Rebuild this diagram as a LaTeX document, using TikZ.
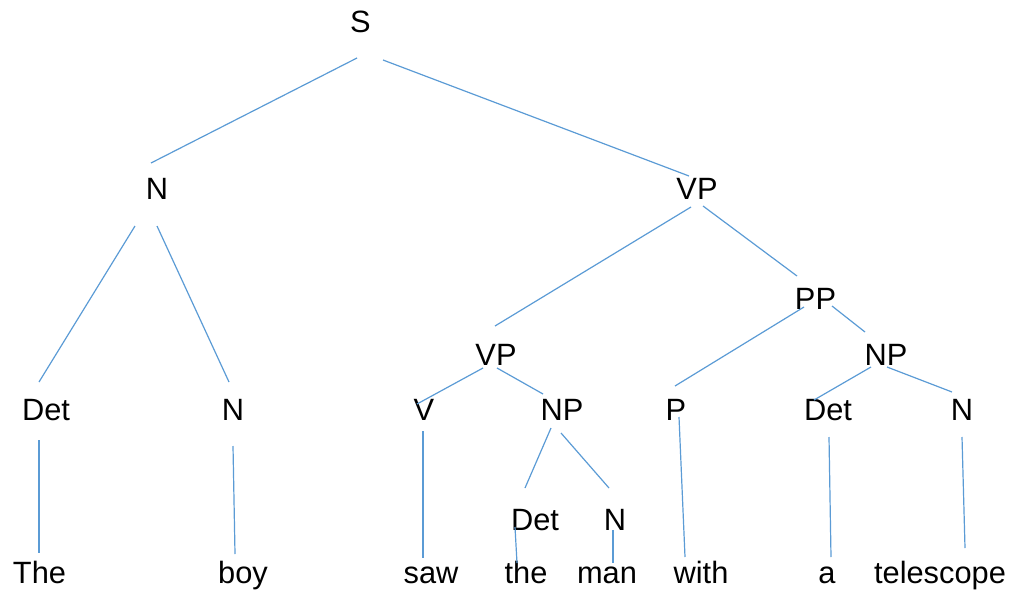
\documentclass[tikz,border=0pt]{standalone}
\usepackage{fontspec}
\setmainfont{Liberation Sans}
\definecolor{edgeblue}{HTML}{5B9BD5}
\tikzset{
  lbl/.style={anchor=base, inner sep=0pt, font=\fontsize{30.8}{36}\selectfont, text=black},
  edge/.style={draw=edgeblue, line width=1.2pt}
}
\begin{document}
\begin{tikzpicture}[x=1pt,y=-1pt]
\useasboundingbox (0,0) rectangle (1022,594);
% labels
\node[lbl] (S) at (360.5,33) {S};
\node[lbl] (N1) at (157,199) {N};
\node[lbl] (VP1) at (697,199) {VP};
\node[lbl] (PP) at (815.5,309) {PP};
\node[lbl] (VP2) at (496,365) {VP};
\node[lbl] (NPr) at (886,365) {NP};
\node[lbl] (Det1) at (46,420) {Det};
\node[lbl] (N2) at (233,420) {N};
\node[lbl] (V) at (424,420) {V};
\node[lbl] (NPl) at (562,420) {NP};
\node[lbl] (P) at (676,420) {P};
\node[lbl] (Det3) at (828,420) {Det};
\node[lbl] (N4) at (962,420) {N};
\node[lbl] (Det2) at (535,530) {Det};
\node[lbl] (N3) at (615,530) {N};
\node[lbl] (w1) at (39.5,583) {The};
\node[lbl] (w2) at (243,583) {boy};
\node[lbl] (w3) at (431,583) {saw};
\node[lbl] (w4) at (526,583) {the};
\node[lbl] (w5) at (607,583) {man};
\node[lbl] (w6) at (701,583) {with};
\node[lbl] (w7) at (827,583) {a};
\node[lbl] (w8) at (940,583) {telescope};
% connector end points
\coordinate (S-l) at (357,58);   \coordinate (N1-t) at (151,163);
\coordinate (S-r) at (383,60);   \coordinate (VP1-t) at (689,176);
\coordinate (N1-l) at (135,226); \coordinate (Det1-t) at (39,382);
\coordinate (N1-r) at (157,226); \coordinate (N2-t) at (229,382);
\coordinate (Det1-b) at (39,440); \coordinate (w1-t) at (39,553);
\coordinate (N2-b) at (233,446); \coordinate (w2-t) at (235,554);
\coordinate (VP1-l) at (691,207); \coordinate (VP2-t) at (495,326);
\coordinate (VP1-r) at (703,206); \coordinate (PP-t) at (797,276);
\coordinate (PP-l) at (804,307); \coordinate (P-t) at (675,386);
\coordinate (PP-r) at (832,306); \coordinate (NPr-t) at (865,332);
\coordinate (VP2-l) at (483,368); \coordinate (V-t) at (417,404);
\coordinate (VP2-r) at (497,368); \coordinate (NPl-t) at (543,394);
\coordinate (V-b) at (423,431); \coordinate (w3-t) at (423,558);
\coordinate (NPl-l) at (551,428); \coordinate (Det2-t) at (525,488);
\coordinate (NPl-r) at (561,433); \coordinate (N3-t) at (609,488);
\coordinate (Det2-b) at (515,527); \coordinate (w4-t) at (517,563);
\coordinate (N3-b) at (613,530); \coordinate (w5-t) at (613,563);
\coordinate (P-b) at (679,417); \coordinate (w6-t) at (685,557);
\coordinate (NPr-l) at (871,367); \coordinate (Det3-t) at (814,400);
\coordinate (NPr-r) at (887,367); \coordinate (N4-t) at (952,392);
\coordinate (Det3-b) at (829,437); \coordinate (w7-t) at (831,557);
\coordinate (N4-b) at (962,437); \coordinate (w8-t) at (965,548);
% connectors
\draw[edge] (S-l) -- (N1-t);
\draw[edge] (S-r) -- (VP1-t);
\draw[edge] (N1-l) -- (Det1-t);
\draw[edge] (N1-r) -- (N2-t);
\draw[edge] (Det1-b) -- (w1-t);
\draw[edge] (N2-b) -- (w2-t);
\draw[edge] (VP1-l) -- (VP2-t);
\draw[edge] (VP1-r) -- (PP-t);
\draw[edge] (PP-l) -- (P-t);
\draw[edge] (PP-r) -- (NPr-t);
\draw[edge] (VP2-l) -- (V-t);
\draw[edge] (VP2-r) -- (NPl-t);
\draw[edge] (V-b) -- (w3-t);
\draw[edge] (NPl-l) -- (Det2-t);
\draw[edge] (NPl-r) -- (N3-t);
\draw[edge] (Det2-b) -- (w4-t);
\draw[edge] (N3-b) -- (w5-t);
\draw[edge] (P-b) -- (w6-t);
\draw[edge] (NPr-l) -- (Det3-t);
\draw[edge] (NPr-r) -- (N4-t);
\draw[edge] (Det3-b) -- (w7-t);
\draw[edge] (N4-b) -- (w8-t);
\end{tikzpicture}
\end{document}
